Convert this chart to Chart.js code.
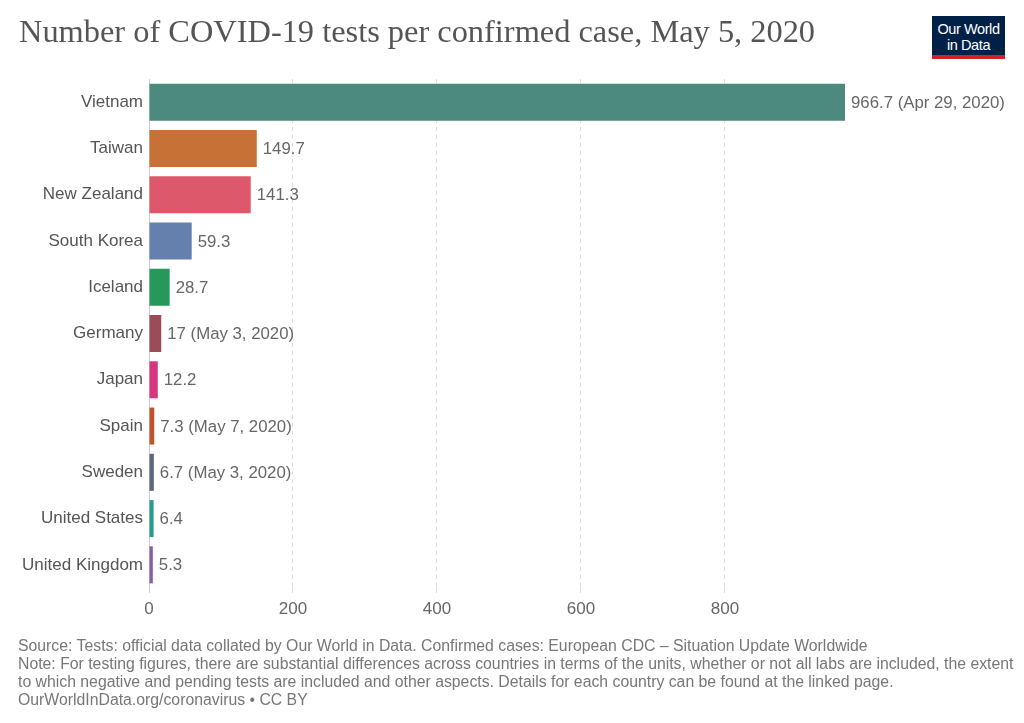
<!DOCTYPE html>
<html>
<head>
<meta charset="utf-8">
<script src="https://cdn.jsdelivr.net/npm/chart.js@4/dist/chart.umd.min.js"></script>
<style>
  html, body { margin: 0; padding: 0; background: #fff; }
  #wrap { position: relative; width: 1024px; height: 723px; overflow: hidden; }
  #chart { position: absolute; left: 0; top: 0; }
  #title { position: absolute; left: 19px; top: 13px; font-family: "Liberation Serif", "DejaVu Serif", serif; font-size: 32.4px; color: #555; white-space: nowrap; }
  #logo { position: absolute; left: 932px; top: 16px; width: 73px; height: 34px; background: #002147; border-bottom: 4px solid #ce261e; color: #fff; font-family: "Liberation Sans", sans-serif; font-size: 14.5px; line-height: 16px; text-align: center; padding-top: 5px; box-sizing: content-box; letter-spacing: -0.4px; }
  #footer { position: absolute; left: 18px; top: 637px; font-family: "Liberation Sans", sans-serif; font-size: 15.8px; line-height: 18px; color: #777; white-space: nowrap; }
</style>
</head>
<body>
<div id="wrap">
  <canvas id="chart" width="1024" height="723"></canvas>
  <div id="title">Number of COVID-19 tests per confirmed case, May 5, 2020</div>
  <div id="logo">Our World<br>in Data</div>
  <div id="footer">Source: Tests: official data collated by Our World in Data. Confirmed cases: European CDC – Situation Update Worldwide<br>Note: For testing figures, there are substantial differences across countries in terms of the units, whether or not all labs are included, the extent<br>to which negative and pending tests are included and other aspects. Details for each country can be found at the linked page.<br>OurWorldInData.org/coronavirus • CC BY</div>
</div>
<script>
const countries = ["Vietnam", "Taiwan", "New Zealand", "South Korea", "Iceland", "Germany", "Japan", "Spain", "Sweden", "United States", "United Kingdom"];
const testsPerCase = [966.7, 149.7, 141.3, 59.3, 28.7, 17, 12.2, 7.3, 6.7, 6.4, 5.3];
const dateNotes = ["Apr 29, 2020", "", "", "", "", "May 3, 2020", "", "May 7, 2020", "May 3, 2020", "", ""];
const barColors = ["#4C8A7D", "#C87137", "#DE586B", "#6580AC", "#28975A", "#9A4D57", "#D9357E", "#C0532B", "#5A677E", "#2A9B92", "#8C5AA7"];
const xTicks = [0, 200, 400, 600, 800];

const valueLabels = {
  id: "valueLabels",
  afterDatasetsDraw(chart) {
    const ctx = chart.ctx;
    const meta = chart.getDatasetMeta(0);
    ctx.save();
    ctx.font = "16.8px 'Liberation Sans', Arial, sans-serif";
    ctx.fillStyle = "#666";
    ctx.textAlign = "left";
    ctx.textBaseline = "middle";
    meta.data.forEach((bar, i) => {
      const txt = String(testsPerCase[i]) + (dateNotes[i] ? " (" + dateNotes[i] + ")" : "");
      ctx.fillText(txt, bar.x + 6, bar.y + 1);
    });
    ctx.restore();
  }
};

new Chart(document.getElementById("chart"), {
  type: "bar",
  data: {
    labels: countries,
    datasets: [{
      data: testsPerCase,
      backgroundColor: barColors,
      borderWidth: 0,
      barPercentage: 0.8,
      categoryPercentage: 1.0
    }]
  },
  options: {
    indexAxis: "y",
    responsive: false,
    animation: false,
    layout: { padding: { left: 0, right: 179, top: 79, bottom: 0 } },
    plugins: { legend: { display: false }, tooltip: { enabled: false }, title: { display: false } },
    scales: {
      x: {
        type: "linear",
        min: 0,
        max: 966.7,
        afterBuildTicks(scale) { scale.ticks = xTicks.map(v => ({ value: v })); },
        afterFit(scale) { scale.height = 135; },
        border: { display: false, dash: [4, 4] },
        grid: {
          color: ctx => (ctx.tick && ctx.tick.value === 0) ? "#cccccc" : "#dcdcdc",
          drawTicks: true,
          tickLength: 5,
          lineWidth: 1
        },
        ticks: {
          color: "#666",
          font: { family: "'Liberation Sans', Arial, sans-serif", size: 17 },
          padding: 6,
          callback: v => String(v)
        }
      },
      y: {
        afterFit(scale) { scale.width = 149; },
        border: { display: true, color: "#cccccc", width: 1 },
        grid: { display: false, drawTicks: false },
        ticks: {
          color: "#555",
          font: { family: "'Liberation Sans', Arial, sans-serif", size: 17 },
          padding: 6
        }
      }
    }
  },
  plugins: [valueLabels]
});
</script>
</body>
</html>
